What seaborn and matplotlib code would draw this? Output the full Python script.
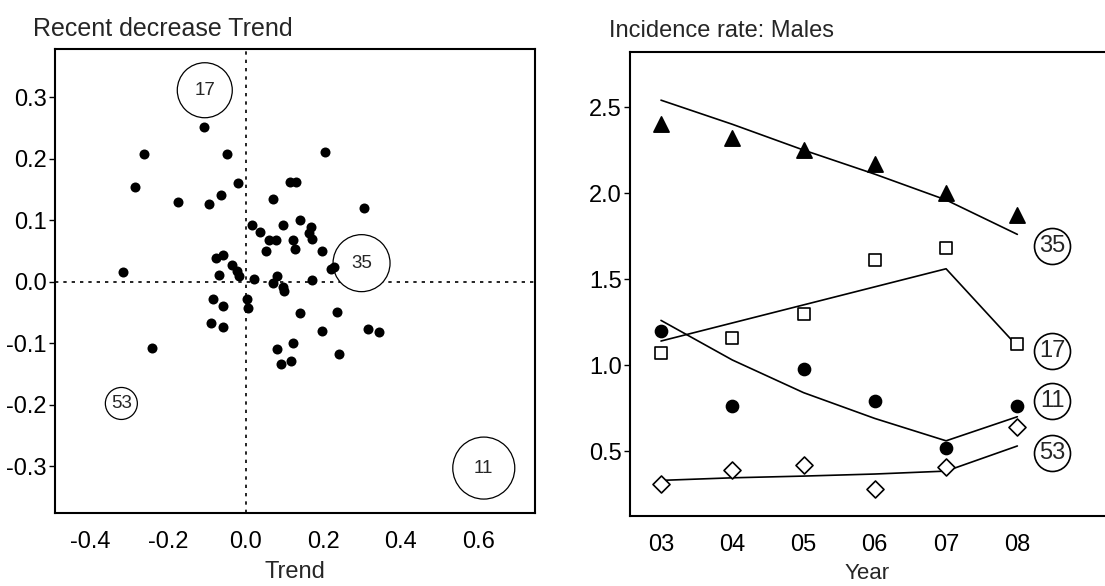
import matplotlib
matplotlib.use('Agg')
import matplotlib.pyplot as plt
import seaborn as sns
import pandas as pd
import numpy as np

# 左图: 趋势散点
trend_x = [-0.107, -0.262, -0.285, -0.174, -0.095, -0.064, -0.049, -0.019, 0.204, 0.114,
           0.130, 0.070, 0.306, 0.017, 0.037, 0.097, 0.140, 0.061, 0.078, 0.123,
           0.127, 0.054, 0.170, 0.164, 0.172, 0.197, 0.228, 0.220, -0.317, -0.075,
           -0.059, -0.034, -0.023, -0.016, -0.069, 0.021, 0.080, 0.070, 0.172, 0.097,
           0.099, -0.083, -0.059, 0.003, 0.007, -0.088, -0.059, 0.140, 0.237, 0.196,
           0.316, 0.344, -0.242, 0.081, 0.123, 0.091, 0.117, 0.241]
trend_y = [0.251, 0.207, 0.154, 0.129, 0.126, 0.140, 0.207, 0.160, 0.211, 0.162,
           0.162, 0.134, 0.119, 0.092, 0.080, 0.092, 0.100, 0.067, 0.067, 0.067,
           0.053, 0.050, 0.088, 0.079, 0.069, 0.050, 0.024, 0.021, 0.015, 0.039,
           0.043, 0.027, 0.018, 0.009, 0.011, 0.004, 0.009, -0.002, 0.002, -0.008,
           -0.015, -0.029, -0.040, -0.029, -0.043, -0.067, -0.073, -0.051, -0.049, -0.080,
           -0.077, -0.082, -0.108, -0.109, -0.099, -0.134, -0.129, -0.118]

# 标注圆圈 (编号, 位置, 大小)
bubble_labels = ['17', '35', '53', '11']
bubble_x = [-0.105, 0.299, -0.320, 0.614]
bubble_y = [0.311, 0.030, -0.198, -0.303]
bubble_diam = [55, 57, 32, 62]  # 像素

# 右图: 男性发病率
years = [3, 4, 5, 6, 7, 8]
year_labels = ['03', '04', '05', '06', '07', '08']
rate_35 = [2.40, 2.32, 2.25, 2.17, 2.00, 1.87]
fit_35 = [2.54, 2.40, 2.25, 2.11, 1.96, 1.76]
rate_17 = [1.07, 1.16, 1.30, 1.61, 1.68, 1.12]
fit_17 = [1.14, 1.245, 1.35, 1.455, 1.56, 1.11]
rate_11 = [1.20, 0.76, 0.98, 0.79, 0.52, 0.76]
fit_11 = [1.26, 1.03, 0.84, 0.69, 0.56, 0.70]
rate_53 = [0.31, 0.39, 0.42, 0.28, 0.41, 0.64]
fit_53 = [0.33, 0.345, 0.355, 0.367, 0.384, 0.53]
series_names = ['35', '17', '11', '53']
label_y = [1.69, 1.08, 0.79, 0.49]

sns.set_theme(style='white')
plt.rcParams['font.family'] = ['Liberation Sans', 'DejaVu Sans']
plt.rcParams['axes.unicode_minus'] = False

fig = plt.figure(figsize=(11.05, 5.86), dpi=100)
ax1 = fig.add_axes([55 / 1105, 73 / 586, 480 / 1105, 464 / 586])
ax2 = fig.add_axes([630 / 1105, 70 / 586, 475 / 1105, 464 / 586])

# ---- 左图 ----
ax1.axvline(0, color='black', linestyle=(0, (2, 3)), linewidth=1.2, zorder=1)
ax1.axhline(0, color='black', linestyle=(0, (2, 3)), linewidth=1.2, zorder=1)
sns.scatterplot(x=trend_x, y=trend_y, ax=ax1, color='black', s=52,
                edgecolor='black', linewidth=0, zorder=3)
bub_s = [(d * 0.72) ** 2 for d in bubble_diam]
ax1.scatter(bubble_x, bubble_y, s=bub_s, facecolors='white', edgecolors='black',
            linewidths=0.9, zorder=2)
for lab, bx, by in zip(bubble_labels, bubble_x, bubble_y):
    ax1.text(bx, by, lab, ha='center', va='center', fontsize=13.5, zorder=4)

ax1.set_xlim(-0.491, 0.746)
ax1.set_ylim(-0.376, 0.378)
ax1.set_xticks([-0.4, -0.2, 0.0, 0.2, 0.4, 0.6])
ax1.set_xticklabels(['-0.4', '-0.2', '0.0', '0.2', '0.4', '0.6'])
ax1.set_yticks([-0.3, -0.2, -0.1, 0.0, 0.1, 0.2, 0.3])
ax1.set_yticklabels(['-0.3', '-0.2', '-0.1', '0.0', '0.1', '0.2', '0.3'])
ax1.set_xlabel('Trend', fontsize=17, labelpad=6)
ax1.set_title('Recent decrease Trend', fontsize=18, loc='left', x=-0.046, pad=9)

# ---- 右图 ----
markers = {'35': '^', '17': 's', '11': 'o', '53': 'D'}
mfill = {'35': 'black', '17': 'white', '11': 'black', '53': 'white'}
msize = {'35': 120, '17': 80, '11': 75, '53': 75}
rates = {'35': rate_35, '17': rate_17, '11': rate_11, '53': rate_53}
fits = {'35': fit_35, '17': fit_17, '11': fit_11, '53': fit_53}

for name in series_names:
    df = pd.DataFrame({'year': years, 'rate': rates[name], 'fit': fits[name]})
    sns.lineplot(data=df, x='year', y='fit', ax=ax2, color='black', linewidth=1.2)
    sns.scatterplot(data=df, x='year', y='rate', ax=ax2, marker=markers[name],
                    s=msize[name], color=mfill[name], edgecolor='black',
                    linewidth=1.2, zorder=3)

ax2.scatter([8.49] * 4, label_y, s=(36 * 0.72) ** 2, facecolors='white',
            edgecolors='black', linewidths=1.2, zorder=2, clip_on=False)
for name, ly in zip(series_names, label_y):
    ax2.text(8.49, ly, name, ha='center', va='center', fontsize=17, zorder=4)

ax2.set_xlim(2.565, 9.23)
ax2.set_ylim(0.123, 2.82)
ax2.set_xticks(years)
ax2.set_xticklabels(year_labels)
ax2.set_yticks([0.5, 1.0, 1.5, 2.0, 2.5])
ax2.set_yticklabels(['0.5', '1.0', '1.5', '2.0', '2.5'])
ax2.set_xlabel('Year', fontsize=16, labelpad=5)
ax2.set_ylabel('')
ax2.set_title('Incidence rate: Males', fontsize=17, loc='left', x=-0.045, pad=11)
ax2.spines['right'].set_visible(False)

for ax in (ax1, ax2):
    for sp in ax.spines.values():
        sp.set_color('black')
        sp.set_linewidth(1.5)
    ax.tick_params(axis='x', direction='in', length=6, width=1.2, labelsize=17,
                   pad=13, colors='black')
    ax.tick_params(axis='y', direction='out', length=4, width=1.0, labelsize=17,
                   pad=2, colors='black', left=True)

fig.savefig('out.png', dpi=100)
